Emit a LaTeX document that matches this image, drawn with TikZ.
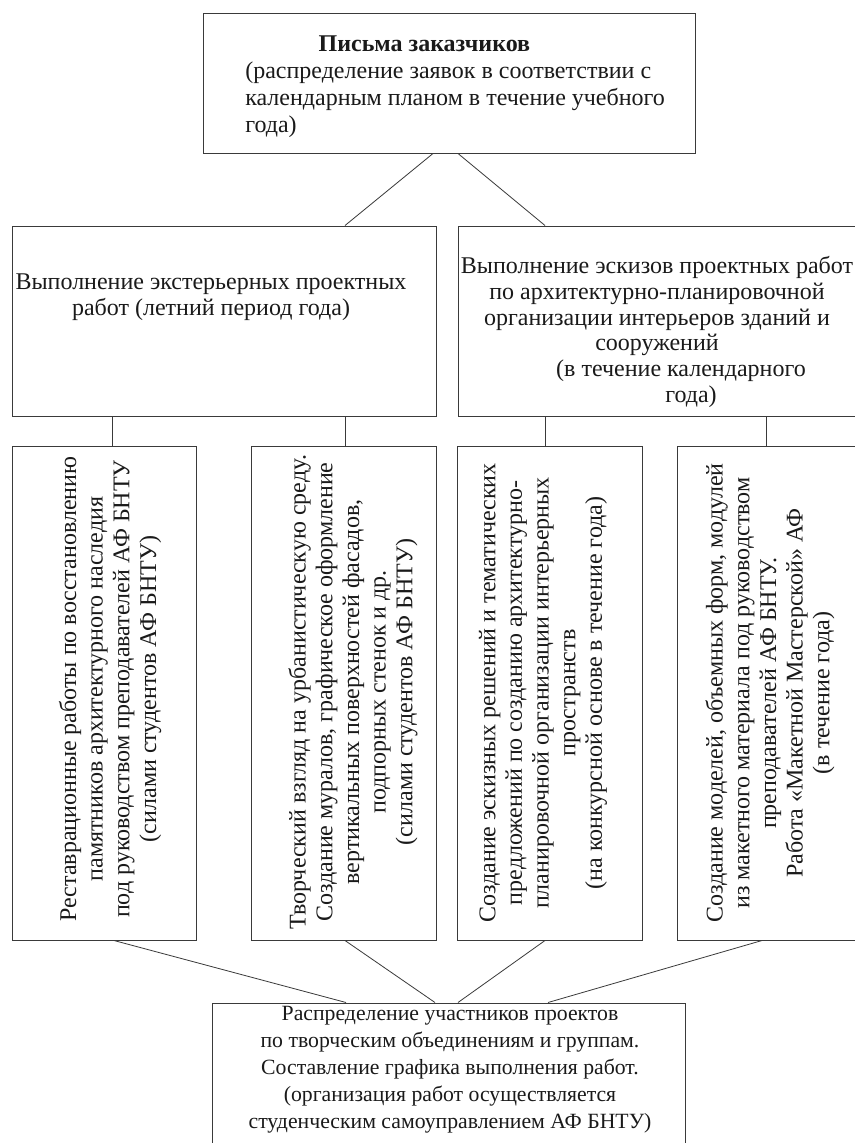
\documentclass[tikz,border=0pt]{standalone}
\usepackage{fontspec}
\setmainfont{Liberation Serif}
\usepackage{tikz}
\usetikzlibrary{calc,fit}
\definecolor{Ink}{HTML}{1A1A1A}
\definecolor{Rule}{HTML}{3A3A3A}
\tikzset{
  card/.style={draw=Rule,line width=.75pt,inner sep=0pt},
  plain/.style={text=Ink,align=center,inner sep=0pt,font=\fontsize{18}{19.3}\selectfont},
  lead/.style={text=Ink,align=left,inner sep=0pt,font=\fontsize{18}{20.3}\selectfont},
  tall/.style={text=Ink,rotate=90,align=center,inner sep=0pt,font=\fontsize{18}{20}\selectfont},
  wire/.style={draw=Rule,line width=.6pt}
}

\begin{document}
\begin{tikzpicture}[x=.75pt,y=-.75pt]
  \useasboundingbox (0,0) rectangle (855,1143);
  \clip (0,0) rectangle (855,1143);
  \fill[white] (0,0) rectangle (855,1143);
  \node[card,fit={(203,13) (695,153)}] (orders) {};
  \node[lead,anchor=west] (ordersT) at (245,87) {\hspace*{55pt}\textbf{Письма заказчиков}\\(распределение заявок в соответствии с\\календарным планом в течение учебного\\года)};
  \node[card,fit={(12,226) (436,416)}] (outer) {};
  \node[plain] (outerT) at (211,297.5) {Выполнение экстерьерных проектных\\работ (летний период года)};
  \node[card,fit={(458,226) (860,416)}] (inner) {};
  \node[plain] (innerT) at (657,332) {Выполнение эскизов проектных работ\\по архитектурно-планировочной\\организации интерьеров зданий и\\сооружений\\\hspace*{36pt}(в течение календарного\\\hspace*{51pt}года)};
  \node[card,fit={(12,446) (196,940)}] (restore) {};
  \node[tall] (restoreT) at (110,689) {Реставрационные работы по восстановлению\\памятников архитектурного наследия\\под руководством преподавателей АФ БНТУ\\(силами студентов АФ БНТУ)};
  \node[card,fit={(251,446) (436,940)}] (mural) {};
  \node[tall] (muralT) at (353,692) {Творческий взгляд на урбанистическую среду.\\Создание муралов, графическое оформление\\вертикальных поверхностей фасадов,\\подпорных стенок и др.\\(силами студентов АФ БНТУ)};
  \node[card,fit={(457,446) (642,940)}] (sketch) {};
  \node[tall] (sketchT) at (543,693) {Создание эскизных решений и тематических\\предложений по созданию архитектурно-\\планировочной организации интерьерных\\пространств\\(на конкурсной основе в течение года)};
  \node[card,fit={(677,446) (860,940)}] (model) {};
  \node[tall] (modelT) at (770,693) {Создание моделей, объемных форм, модулей\\из макетного материала под руководством\\преподавателей АФ БНТУ.\\Работа «Макетной Мастерской» АФ\\(в течение года)};
  \node[card,fit={(212,1003) (685,1160)}] (groups) {};
  \node[plain,font=\fontsize{16.3}{20.3}\selectfont] (groupsT) at (450,1070) {Распределение участников проектов\\по творческим объединениям и группам.\\Составление графика выполнения работ.\\(организация работ осуществляется\\студенческим самоуправлением АФ БНТУ)};
  \draw[wire] ($(orders.south)+(-16,0)$) -- ($(outer.north)+(121,0)$);
  \draw[wire] ($(orders.south)+(9,0)$) -- ($(inner.north)+(-114,0)$);
  \draw[wire] ($(outer.south)+(-112,0)$) -- ($(restore.north)+(8,0)$);
  \draw[wire] ($(outer.south)+(121,0)$) -- ($(mural.north)+(1.5,0)$);
  \draw[wire] ($(inner.south)+(-114,0)$) -- ($(sketch.north)+(-4.5,0)$);
  \draw[wire] ($(inner.south)+(107,0)$) -- ($(model.north)+(-2.5,0)$);
  \draw[wire] ($(restore.south)+(10,0)$) -- ($(groups.north)+(-102.5,0)$);
  \draw[wire] ($(mural.south)+(1.5,0)$) -- ($(groups.north)+(-13.5,0)$);
  \draw[wire] ($(sketch.south)+(-4.5,0)$) -- ($(groups.north)+(9.5,0)$);
  \draw[wire] ($(model.south)+(-6.5,0)$) -- ($(groups.north)+(99.5,0)$);
\end{tikzpicture}
\end{document}
